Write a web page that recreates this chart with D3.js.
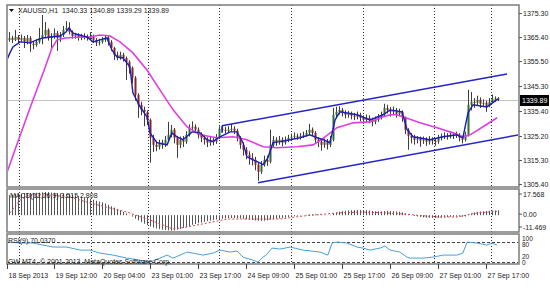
<!DOCTYPE html>
<html><head><meta charset="utf-8">
<script src="https://cdn.jsdelivr.net/npm/d3@7"></script>
<style>
body{margin:0;background:#fff;}
svg text{font-family:"Liberation Sans",Arial,sans-serif;font-size:7px;fill:#1a1a1a;white-space:pre;}
</style></head><body>
<svg id="chart" width="550" height="288"></svg>
<script>

// hourly XAUUSD bars, 18 Sep - 27 Sep 2013
var firstOpen = 1364.3;
var closes = [1365.1,1364.3,1365.5,1364.3,1365.1,1363.5,1365.1,1362.7,1362.2,1363.5,
  1365.1,1366.3,1368.4,1365.1,1365.9,1367.1,1365.1,1366.3,1368.4,1369.2,
  1367.5,1365.9,1366.3,1365.1,1365.5,1365.9,1365.1,1365.9,1364.3,1363.1,
  1363.5,1364.3,1365.1,1363.5,1361.0,1358.2,1357.3,1358.2,1356.9,1355.3,
  1352.9,1348.8,1341.8,1337.8,1335.7,1334.9,1331.6,1324.3,1321.4,1320.6,
  1322.3,1321.4,1323.5,1325.5,1327.6,1324.3,1321.4,1323.5,1322.7,1325.5,
  1328.4,1328.8,1327.6,1325.5,1324.3,1323.5,1322.3,1323.5,1322.7,1324.3,
  1328.0,1327.6,1327.2,1327.6,1328.0,1327.2,1324.3,1321.4,1319.4,1317.4,
  1316.1,1315.3,1313.3,1310.4,1313.3,1315.3,1314.5,1321.4,1323.5,1322.7,
  1323.5,1322.3,1323.5,1324.3,1324.7,1325.1,1324.7,1325.1,1325.5,1326.3,
  1327.6,1326.3,1323.5,1322.7,1321.4,1322.7,1321.4,1323.5,1333.7,1334.9,
  1335.7,1334.5,1333.7,1334.1,1333.3,1332.9,1333.7,1332.5,1331.6,1332.5,
  1331.6,1330.8,1331.6,1332.5,1333.7,1336.5,1335.7,1334.9,1335.7,1334.1,
  1334.9,1332.5,1327.6,1325.1,1324.3,1323.5,1323.9,1323.1,1323.5,1322.7,
  1323.5,1323.1,1322.7,1324.3,1324.7,1325.1,1324.7,1325.5,1325.1,1325.5,
  1324.3,1323.5,1325.5,1337.8,1339.0,1338.6,1339.8,1338.2,1338.6,1337.4,
  1339.0,1340.2,1340.33,1339.89];
var highs = [1367.5,1366.0,1368.4,1366.3,1366.5,1365.9,1366.3,1365.9,1363.8,1364.5,
  1369.2,1374.5,1371.6,1369.0,1367.0,1369.0,1368.0,1367.5,1370.0,1372.0,
  1371.5,1368.2,1367.2,1367.0,1366.8,1367.0,1366.5,1367.5,1366.5,1365.0,
  1364.8,1365.5,1366.2,1365.8,1364.2,1361.5,1359.5,1359.5,1359.0,1357.5,
  1356.0,1353.5,1349.5,1342.5,1339.0,1337.0,1335.5,1332.2,1325.5,1323.0,
  1323.5,1323.5,1325.0,1330.8,1329.5,1328.3,1325.0,1324.8,1325.0,1327.0,
  1329.8,1331.0,1329.8,1328.5,1326.5,1325.5,1324.5,1324.8,1324.5,1325.8,
  1329.0,1329.2,1328.8,1329.0,1330.0,1329.0,1328.0,1325.0,1322.5,1320.5,
  1318.8,1318.0,1316.5,1314.5,1314.8,1317.0,1317.0,1327.6,1325.0,1324.5,
  1325.0,1324.5,1324.8,1325.5,1326.0,1326.5,1326.0,1326.2,1326.8,1327.5,
  1330.0,1328.5,1327.0,1324.5,1323.5,1324.0,1323.8,1325.0,1336.5,1337.0,
  1337.2,1336.5,1335.5,1335.3,1335.0,1334.5,1335.0,1334.5,1333.5,1333.8,
  1333.5,1332.5,1333.0,1334.0,1335.0,1338.2,1337.8,1336.8,1337.0,1336.5,
  1336.2,1335.5,1333.0,1328.2,1326.2,1325.5,1325.0,1324.8,1324.8,1324.5,
  1325.0,1324.5,1324.0,1325.5,1326.0,1326.5,1326.2,1327.0,1326.5,1326.8,
  1326.2,1325.0,1326.8,1343.9,1343.0,1340.5,1341.5,1340.8,1340.0,1339.5,
  1340.5,1342.0,1341.2,1340.89];
var lows = [1363.5,1363.0,1363.8,1363.0,1363.5,1361.0,1362.5,1359.4,1360.5,1361.5,
  1362.8,1362.5,1365.5,1364.0,1361.0,1364.8,1359.8,1363.5,1365.5,1367.5,
  1366.5,1364.8,1364.8,1364.0,1364.2,1364.5,1364.0,1364.5,1363.0,1361.8,
  1362.0,1362.8,1363.5,1362.0,1359.8,1356.1,1356.0,1356.2,1355.5,1347.9,
  1350.5,1346.5,1339.5,1332.4,1333.5,1329.0,1329.5,1314.1,1318.5,1318.8,
  1319.5,1319.8,1320.5,1322.8,1324.5,1322.0,1316.1,1320.0,1320.5,1321.8,
  1324.8,1327.0,1326.2,1324.0,1322.5,1321.5,1320.5,1321.0,1321.2,1321.8,
  1323.8,1326.5,1326.0,1326.2,1326.8,1325.8,1322.8,1319.8,1317.0,1315.5,
  1313.3,1313.0,1311.0,1306.7,1309.5,1312.5,1312.8,1313.8,1320.5,1321.0,
  1321.5,1320.8,1321.5,1322.5,1323.2,1323.8,1323.5,1323.6,1324.2,1324.8,
  1325.5,1325.0,1322.0,1320.5,1319.0,1320.2,1319.5,1320.5,1322.8,1332.5,
  1333.8,1333.0,1332.2,1332.5,1331.8,1331.5,1331.8,1331.0,1330.0,1330.5,
  1330.2,1329.0,1329.8,1330.8,1331.8,1333.0,1334.2,1333.0,1333.8,1332.5,
  1333.0,1330.8,1325.8,1319.4,1322.0,1321.5,1322.0,1320.6,1321.8,1321.0,
  1321.5,1321.5,1321.0,1321.8,1323.2,1323.8,1323.5,1324.0,1323.8,1324.2,
  1322.8,1322.0,1322.8,1324.8,1335.5,1336.5,1337.5,1336.5,1337.0,1334.9,
  1336.8,1338.5,1339.0,1339.29];

// fast MA (blue) and slow MA (magenta) as [bar, price]
var fastMA = [[-0.7,1356.1],[0.3,1359.0],[1.3,1361.4],[3.7,1363.5],[7,1363.1],[9.3,1364.3],[11.3,1365.1],
  [14,1365.5],[17,1365.9],[19,1367.5],[20,1369.2],[21.3,1367.1],[24.7,1365.9],[26,1365.5],[28,1363.5],
  [30.3,1364.3],[32.7,1365.1],[34.3,1360.2],[36,1357.3],[38,1356.9],[40.3,1353.3],[41.3,1342.7],
  [43.7,1336.9],[46,1332.9],[47,1326.3],[49.3,1322.3],[52.7,1321.4],[54.3,1326.3],[56,1324.7],
  [58,1323.5],[61,1326.7],[63.7,1326.3],[66,1323.5],[68,1322.7],[70.3,1324.7],[73.7,1326.7],
  [76,1326.7],[78,1322.3],[79.3,1316.5],[82.7,1314.5],[84.7,1313.3],[86.3,1316.1],[88,1322.3],
  [90.3,1322.7],[93.7,1323.5],[97,1324.3],[100.3,1325.5],[102.7,1324.3],[104.7,1323.5],[107,1322.3],
  [108.7,1331.6],[110.3,1334.9],[116,1333.7],[120.3,1331.6],[124.7,1333.7],[127,1335.7],[131,1334.9],
  [132.7,1327.6],[134.7,1324.7],[140.3,1323.5],[144.7,1324.7],[149.3,1325.5],[151.3,1324.3],
  [153,1334.5],[154.7,1337.8],[159.3,1336.9],[163,1340.2]];
var slowMA = [[-0.7,1310.0],[2,1319.4],[7,1336.5],[12,1352.9],[14.3,1361.0],[16,1364.3],[18.7,1365.1],
  [23.7,1365.5],[27,1365.5],[30.3,1366.3],[33.7,1365.9],[37,1363.5],[41.3,1359.0],[46,1352.0],
  [50.3,1343.9],[54.7,1335.7],[59.3,1328.8],[63.7,1325.5],[69.3,1324.3],[74.7,1324.7],[79.3,1323.5],
  [84.7,1320.6],[89.3,1320.2],[96,1320.6],[101.3,1321.4],[103.7,1323.1],[109.3,1328.4],[114.7,1330.4],
  [120.3,1330.8],[123.7,1332.5],[127,1333.7],[129.3,1333.7],[131.3,1332.9],[137,1330.4],[142.7,1328.4],
  [148,1326.3],[151.3,1324.7],[153.7,1325.5],[158,1328.8],[162.7,1332.5]];

// trend channel as [bar, price]
var channelUpper = [[71,1329.2],[166,1350.4]];
var channelStub = [[71,1329.2],[71,1326.3]];
var channelLower = [[83,1305.9],[170,1325.5]];

// MACD(12,26,9)
var macdHist = [14.5,15.0,15.3,15.5,15.6,15.8,16.0,16.1,16.2,16.3,16.4,16.6,16.9,16.8,16.5,
  16.3,16.0,15.8,15.6,15.5,15.2,14.8,14.4,13.9,13.5,13.0,12.5,11.9,11.2,10.5,
  9.9,9.3,8.5,7.5,6.5,5.5,4.5,3.5,2.4,1.3,0.2,-1.0,-2.5,-3.8,-5.0,
  -6.2,-7.2,-8.2,-9.0,-9.6,-10.1,-10.5,-10.8,-11.0,-11.2,-11.0,-10.5,-9.9,-9.2,-8.5,
  -7.8,-7.0,-6.4,-5.8,-5.3,-4.8,-4.3,-3.9,-3.5,-3.1,-2.8,-2.5,-2.3,-2.1,-2.0,
  -2.0,-2.1,-2.3,-2.6,-2.9,-3.2,-3.5,-3.8,-4.0,-4.1,-4.0,-3.7,-3.2,-2.8,-2.5,
  -2.3,-2.0,-1.7,-1.4,-1.1,-0.8,-0.5,-0.2,0.0,0.3,0.6,0.7,0.6,0.4,0.2,
  0.1,0.0,0.3,1.2,2.0,2.6,3.0,3.2,3.4,3.6,3.7,3.8,3.8,3.7,3.6,
  3.4,3.1,2.9,2.8,2.8,3.0,3.1,3.0,2.9,2.7,2.5,2.1,1.4,0.6,-0.1,
  -0.6,-1.0,-1.3,-1.6,-1.8,-1.9,-2.0,-2.0,-1.9,-1.8,-1.6,-1.4,-1.2,-1.1,-1.0,
  -1.0,-1.1,-1.0,0.2,1.2,1.9,2.4,2.7,2.9,3.0,3.2,3.4,3.5,3.515];
var macdSignal = [[0.3,1.6],[3.7,11.0],[7,14.7],[13.7,14.7],[20.3,13.2],[27,8.9],[33.7,5.2],[39.3,2.3],
  [47,-3.5],[54.7,-10.0],[59.3,-8.6],[66,-5.7],[72.7,-2.8],[81.3,-2.8],[90.3,-2.8],[98,-0.6],
  [109.3,1.6],[118,2.3],[126,1.6],[131.3,0.9],[142.7,-1.3],[149.3,-1.3],[156,1.6],[162.7,2.808]];

// RSI(9)
var rsi = [[0,79],[3.7,76],[8,76],[11.3,70],[14.7,64],[19.3,64],[23.7,55],[27,55],[30.3,46],[34.7,40],
  [39.3,31],[43.7,25],[47,19],[50.3,31],[52.7,40],[54.7,31],[57,40],[59.3,49],[61.3,46],[64.7,40],
  [68,46],[70.3,55],[73.7,49],[76,52],[78,34],[81.3,25],[83,19],[84.7,34],[85.7,40],[87.7,61],
  [90.3,58],[93.7,64],[98,55],[103.7,49],[106.3,40],[107.7,76],[109.3,79],[112.7,76],[116,64],
  [118,61],[120.3,55],[123.7,61],[125.3,67],[127,55],[130.3,49],[132.7,34],[133.7,31],[138,31],
  [141.3,34],[144.7,40],[149.3,40],[151.3,46],[152.7,79],[156,76],[159.3,70],[161,76],[162.7,70.04]];
var rsiLevels = [80, 20];

// axis labels
var priceTicks = [1375.30,1365.40,1355.50,1345.30,1335.40,1325.20,1315.30,1305.40];
var lastPrice = 1339.89;
var macdTicks = [17.568, 0, -11.469];
var macdTickText = ["17.568","0.00","-11.469"];
var rsiTickText = ["100","80","20","0"];
var gridBars = [3.33,27.33,46.33,70,94,118,141.67,160.67];
var timeBars = [-0.67,15,31,47,63,79,95,111,127,143,159];
var timeLabels = ["18 Sep 2013","19 Sep 12:00","20 Sep 04:00","23 Sep 01:00","23 Sep 17:00",
  "24 Sep 09:00","25 Sep 01:00","25 Sep 17:00","26 Sep 09:00","27 Sep 01:00","27 Sep 17:00"];

var svg = d3.select("#chart");
var L = 7, R = 519;
var panels = {main:{top:5,bottom:187}, macd:{top:189,bottom:232}, rsi:{top:234,bottom:264}};

var x = d3.scaleLinear().domain([0,163]).range([9,498]);
var yMain = d3.scaleLinear().domain([1305.4,1375.3]).range([184,13]);
var yMacd = d3.scaleLinear().domain([-11.469,17.568]).range([231,191]);
var yRsi = d3.scaleLinear().domain([0,100]).range([268.5,235]);

svg.append("rect").attr("width",550).attr("height",288).attr("fill","#fff");

var defs = svg.append("defs");
Object.keys(panels).forEach(function(k){
    var p = panels[k];
    defs.append("clipPath").attr("id","clip_"+k)
        .append("rect").attr("x",L+1).attr("y",p.top+1)
        .attr("width",R-L-2).attr("height",p.bottom-p.top-2);
});

// vertical dotted grid in every sub-window
Object.keys(panels).forEach(function(k){
    var p = panels[k];
    svg.append("g").selectAll("line").data(gridBars).enter().append("line")
        .attr("x1",function(d){ return Math.round(x(d))+0.5; })
        .attr("x2",function(d){ return Math.round(x(d))+0.5; })
        .attr("y1",p.top).attr("y2",p.bottom)
        .attr("stroke","#333").attr("stroke-dasharray","1,2");
});

// ---- main window
var gMain = svg.append("g").attr("clip-path","url(#clip_main)");

gMain.append("line")
    .attr("x1",L).attr("x2",R)
    .attr("y1",Math.round(yMain(lastPrice))+0.5).attr("y2",Math.round(yMain(lastPrice))+0.5)
    .attr("stroke","#c4c4c4");

var bars = closes.map(function(c,i){
    return {i:i, o: i ? closes[i-1] : firstOpen, h:highs[i], l:lows[i], c:c};
});

gMain.append("g").selectAll("line").data(bars).enter().append("line")
    .attr("x1",function(d){ return x(d.i)+0.5; })
    .attr("x2",function(d){ return x(d.i)+0.5; })
    .attr("y1",function(d){ return yMain(d.h); })
    .attr("y2",function(d){ return yMain(d.l); })
    .attr("stroke","#3d3d3d");

gMain.append("g").selectAll("rect").data(bars).enter().append("rect")
    .attr("x",function(d){ return x(d.i)-0.5; })
    .attr("width",2)
    .attr("y",function(d){ return yMain(Math.max(d.o,d.c)); })
    .attr("height",function(d){ return Math.max(1, Math.abs(yMain(d.o)-yMain(d.c))); })
    .attr("fill",function(d){ return d.c >= d.o ? "#2f6e2f" : "#8a2424"; });

var mline = d3.line().x(function(d){ return x(d[0]); }).y(function(d){ return yMain(d[1]); });

gMain.append("path").datum(slowMA).attr("d",mline)
    .attr("fill","none").attr("stroke","#e03ee0").attr("stroke-width",1.6);
gMain.append("path").datum(fastMA).attr("d",mline)
    .attr("fill","none").attr("stroke","#1c1cb8").attr("stroke-width",1.4);

[channelUpper, channelStub, channelLower].forEach(function(seg){
    gMain.append("path").datum(seg).attr("d",mline)
        .attr("fill","none").attr("stroke","#2424c8").attr("stroke-width",1.5);
});

// ---- MACD window
var gMacd = svg.append("g").attr("clip-path","url(#clip_macd)");
gMacd.append("g").selectAll("line").data(macdHist).enter().append("line")
    .attr("x1",function(d,i){ return x(i)+0.5; })
    .attr("x2",function(d,i){ return x(i)+0.5; })
    .attr("y1",yMacd(0))
    .attr("y2",function(d){ return yMacd(d); })
    .attr("stroke","#555");
gMacd.append("path").datum(macdSignal)
    .attr("d",d3.line().x(function(d){ return x(d[0]); }).y(function(d){ return yMacd(d[1]); }))
    .attr("fill","none").attr("stroke","#d04848").attr("stroke-width",1)
    .attr("stroke-dasharray","2,2");

// ---- RSI window
var gRsi = svg.append("g").attr("clip-path","url(#clip_rsi)");
gRsi.selectAll("line.lvl").data(rsiLevels).enter().append("line")
    .attr("x1",L).attr("x2",R)
    .attr("y1",function(d){ return Math.round(yRsi(d))+0.5; })
    .attr("y2",function(d){ return Math.round(yRsi(d))+0.5; })
    .attr("stroke","#444").attr("stroke-dasharray","3,2");
gRsi.append("path").datum(rsi)
    .attr("d",d3.line().x(function(d){ return x(d[0]); }).y(function(d){ return yRsi(d[1]); }))
    .attr("fill","none").attr("stroke","#4a9fdc").attr("stroke-width",1);

// frames
Object.keys(panels).forEach(function(k){
    var p = panels[k];
    svg.append("rect").attr("x",L).attr("y",p.top)
        .attr("width",R-L).attr("height",p.bottom-p.top)
        .attr("fill","none").attr("stroke","#7c7c7c").attr("stroke-width",1.5);
});

// ---- right axis
var ax = svg.append("g");
priceTicks.forEach(function(v){
    var yy = Math.round(yMain(v))+0.5;
    ax.append("line").attr("x1",R).attr("x2",R+3).attr("y1",yy).attr("y2",yy).attr("stroke","#555");
    ax.append("text").attr("x",R+4).attr("y",yy+2.5).text(v.toFixed(2));
});
var lp = Math.round(yMain(lastPrice));
ax.append("rect").attr("x",R+1).attr("y",lp-5).attr("width",29).attr("height",11).attr("fill","#000");
ax.append("text").attr("x",R+3).attr("y",lp+2.5).style("fill","#fff").text(lastPrice.toFixed(2));

var macdLabelY = [yMacd(macdTicks[0])+3, yMacd(macdTicks[1])-1, yMacd(macdTicks[2])-4];
macdTicks.forEach(function(v,i){
    var yy = macdLabelY[i];
    ax.append("line").attr("x1",R).attr("x2",R+3).attr("y1",yy).attr("y2",yy).attr("stroke","#555");
    ax.append("text").attr("x",R+4).attr("y",yy+2.5).text(macdTickText[i]);
});

// rsi scale labels: 100/80 and 20/0 are crowded, keep them stacked apart
var rsiLabelY = [240.5, 246.5, 258.5, 264.5];
var rsiLabelX = [R+3, R+3, R+3, R+3];
rsiTickText.forEach(function(t,i){
    ax.append("text").attr("x",rsiLabelX[i]).attr("y",rsiLabelY[i]).style("font-size","6.5px").text(t);
});

// ---- time axis
timeBars.forEach(function(b,i){
    var xx = Math.round(x(b))+0.5;
    ax.append("line").attr("x1",xx).attr("x2",xx).attr("y1",panels.rsi.bottom).attr("y2",panels.rsi.bottom+5)
        .attr("stroke","#444");
    ax.append("text").attr("x",xx+1).attr("y",278).text(timeLabels[i]);
});

// ---- window captions
svg.append("path").attr("d","M9,9 L14,9 L11.5,12 Z").attr("fill","#111");
svg.append("text").attr("x",18).attr("y",13).text("XAUUSD,H1  1340.33 1340.89 1339.29 1339.89");
svg.append("text").attr("x",10).attr("y",198).text("MACD(12,26,9) 3.515 2.808");
svg.append("text").attr("x",8).attr("y",243).text("RSI(9) 70.0370");
svg.append("text").attr("x",8).attr("y",264).text("GW MT4, \u00a9 2001-2013, MetaQuotes Software Corp.");

</script>
</body></html>
